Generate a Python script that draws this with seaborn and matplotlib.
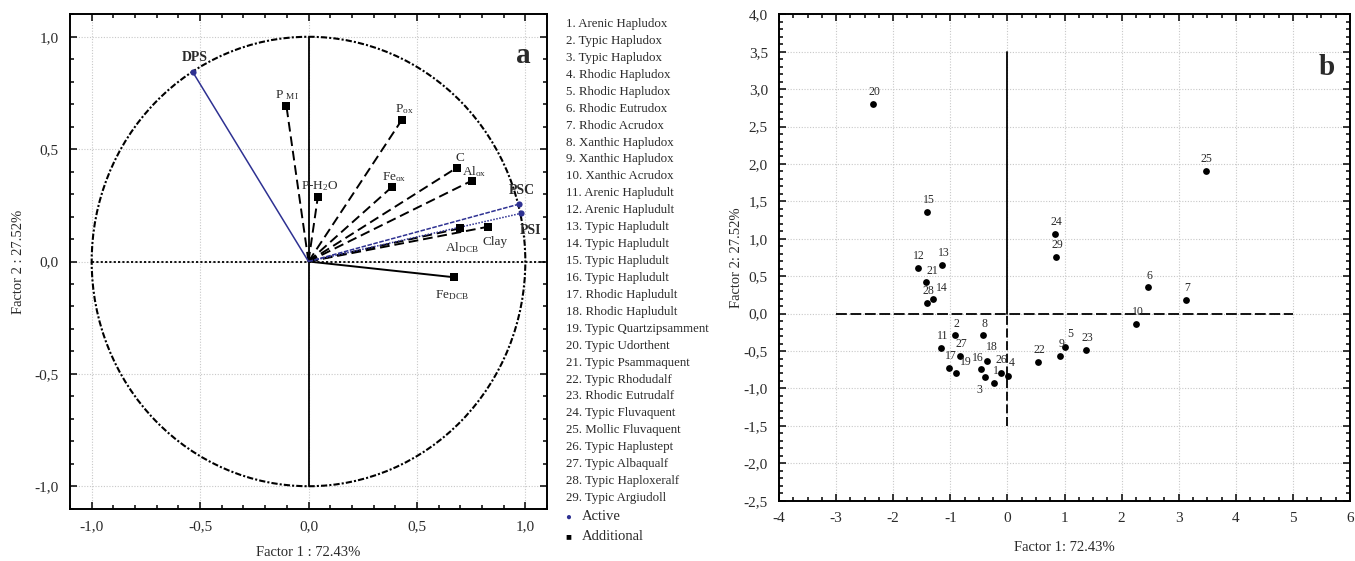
import numpy as np
import pandas as pd
import matplotlib
matplotlib.use("Agg")
import matplotlib.pyplot as plt
from matplotlib.patches import Circle
from matplotlib.ticker import MultipleLocator, FuncFormatter
import seaborn as sns

# ---------------- data ----------------
# Panel a: loadings (Factor 1, Factor 2)
active_vars = ["DPS", "PSC", "PSI"]
active_f1 = [-0.535, 0.970, 0.979]
active_f2 = [0.845, 0.255, 0.214]

add_vars = ["P_MI", "P_ox", "C", "Al_ox", "Fe_ox", "P-H2O", "Al_DCB", "Clay", "Fe_DCB"]
add_labels = [r"P $_{\mathrm{MI}}$", r"P$_{\mathrm{ox}}$", "C", r"Al$_{\mathrm{ox}}$",
              r"Fe$_{\mathrm{ox}}$", r"P-H$_2$O", r"Al$_{\mathrm{DCB}}$", "Clay",
              r"Fe$_{\mathrm{DCB}}$"]
add_f1 = [-0.102, 0.429, 0.685, 0.752, 0.384, 0.043, 0.701, 0.830, 0.670]
add_f2 = [0.693, 0.628, 0.418, 0.359, 0.331, 0.287, 0.148, 0.155, -0.070]

# Panel b: scores of the 29 soils
soil_ids = list(range(1, 30))
soil_f1 = [-0.23, -0.92, -0.40, 0.01, 1.00, 2.46, 3.13, -0.42, 0.92, 2.26,
           -1.16, -1.57, -1.14, -1.30, -1.40, -0.47, -1.02, -0.35, -0.90, -2.36,
           -1.43, 0.54, 1.38, 0.83, 3.47, -0.11, -0.83, -1.40, 0.85]
soil_f2 = [-0.93, -0.29, -0.85, -0.83, -0.44, 0.35, 0.18, -0.29, -0.57, -0.14,
           -0.46, 0.61, 0.65, 0.20, 1.36, -0.74, -0.72, -0.63, -0.79, 2.80,
           0.42, -0.64, -0.49, 1.06, 1.91, -0.79, -0.57, 0.14, 0.76]

soil_names = ["Arenic Hapludox", "Typic Hapludox", "Typic Hapludox", "Rhodic Hapludox",
              "Rhodic Hapludox", "Rhodic Eutrudox", "Rhodic Acrudox", "Xanthic Hapludox",
              "Xanthic Hapludox", "Xanthic Acrudox", "Arenic Hapludult", "Arenic Hapludult",
              "Typic Hapludult", "Typic Hapludult", "Typic Hapludult", "Typic Hapludult",
              "Rhodic Hapludult", "Rhodic Hapludult", "Typic Quartzipsamment",
              "Typic Udorthent", "Typic Psammaquent", "Typic Rhodudalf", "Rhodic Eutrudalf",
              "Typic Fluvaquent", "Mollic Fluvaquent", "Typic Haplustept", "Typic Albaqualf",
              "Typic Haploxeralf", "Typic Argiudoll"]

x_label_a = "Factor 1 : 72.43%"
y_label_a = "Factor 2 : 27.52%"
x_label_b = "Factor 1: 72.43%"
y_label_b = "Factor 2: 27.52%"

# ---------------- style ----------------
sns.set_theme(style="ticks")
plt.rcParams["font.family"] = ["Liberation Serif", "DejaVu Serif"]
plt.rcParams["mathtext.fontset"] = "custom"
plt.rcParams["mathtext.rm"] = "Liberation Serif"
plt.rcParams["mathtext.it"] = "Liberation Serif:italic"
plt.rcParams["mathtext.bf"] = "Liberation Serif:bold"

TXT = "#2a2a2a"
BLUE = "#2e3192"

W, H = 1355, 561
fig = plt.figure(figsize=(W / 100, H / 100), dpi=100)
ax1 = fig.add_axes([70 / W, 1 - 508.7 / H, 477 / W, 494.4 / H])
ax2 = fig.add_axes([779 / W, 1 - 500.7 / H, 571 / W, 486.4 / H])

comma = FuncFormatter(lambda v, p: f"{v:.1f}".replace(".", ",").replace("-0,0", "0,0"))
intfmt = FuncFormatter(lambda v, p: f"{v:.0f}")


def style_axes(ax):
    for s in ax.spines.values():
        s.set_linewidth(1.4)
        s.set_color("black")
    ax.tick_params(which="both", direction="in", top=True, right=True,
                   colors="black", labelcolor=TXT, labelsize=11, width=1.1)
    ax.tick_params(which="major", length=5, pad=8)
    ax.tick_params(which="minor", length=3)
    ax.grid(True, which="major", color="#c8c8c8", linestyle=(0, (1, 1.5)), linewidth=0.8)
    ax.set_axisbelow(True)


# ---------------- panel a ----------------
ax = ax1
ax.set_xlim(-1.1, 1.1)
ax.set_ylim(-1.1, 1.1)
style_axes(ax)
ax.xaxis.set_major_locator(MultipleLocator(0.5))
ax.yaxis.set_major_locator(MultipleLocator(0.5))
ax.xaxis.set_minor_locator(MultipleLocator(0.1))
ax.yaxis.set_minor_locator(MultipleLocator(0.1))
ax.xaxis.set_major_formatter(comma)
ax.yaxis.set_major_formatter(comma)

ax.add_patch(Circle((0, 0), 1.0, fill=False, color="black", lw=1.5,
                    linestyle=(0, (3, 1, 1, 1)), zorder=2))
ax.plot([-1.0, 1.1], [0, 0], color="black", lw=1.3, linestyle=(0, (1.2, 1.2)), zorder=2)
ax.plot([0, 0], [-1.0, 1.0], color="black", lw=1.3, zorder=2)

add_styles = [(0, (5, 2.5))] * 8 + ["-"]
for xv, yv, ls in zip(add_f1, add_f2, add_styles):
    ax.plot([0, xv], [0, yv], color="black", lw=1.4, linestyle=ls, zorder=3)
act_styles = ["-", (0, (3, 1)), (0, (1, 1))]
for xv, yv, ls in zip(active_f1, active_f2, act_styles):
    ax.plot([0, xv], [0, yv], color=BLUE, lw=1.1, linestyle=ls, zorder=3)

df_add = pd.DataFrame({"f1": add_f1, "f2": add_f2, "var": add_vars})
df_act = pd.DataFrame({"f1": active_f1, "f2": active_f2, "var": active_vars})
sns.scatterplot(data=df_add, x="f1", y="f2", marker="s", color="black", s=26,
                edgecolor="black", linewidth=0, ax=ax, zorder=4, legend=False)
sns.scatterplot(data=df_act, x="f1", y="f2", marker="o", color=BLUE, s=20,
                edgecolor=BLUE, linewidth=0, ax=ax, zorder=4, legend=False)

add_off = [(0, 8), (2, 8), (2, 7), (2, 7), (2, 7), (1, 8), (1, -14), (5, -11), (-1, -13)]
for lab, xv, yv, (dx, dy) in zip(add_labels, add_f1, add_f2, add_off):
    ax.annotate(lab, (xv, yv), xytext=(dx, dy), textcoords="offset points",
                ha="center", va="center", fontsize=9.5, color=TXT, zorder=5)
act_off = [(2, 10), (2, 10), (7, -12)]
for lab, xv, yv, (dx, dy) in zip(active_vars, active_f1, active_f2, act_off):
    ax.annotate(lab, (xv, yv), xytext=(dx, dy), textcoords="offset points",
                ha="center", va="center", fontsize=10, fontweight="bold",
                color=TXT, zorder=5)

ax.text(0.95, 0.917, "a", transform=ax.transAxes, fontsize=21, fontweight="bold",
        ha="center", va="center", color=TXT)
ax.set_xlabel(x_label_a, fontsize=10.5, color=TXT)
ax.set_ylabel(y_label_a, fontsize=10.5, color=TXT)
ax.xaxis.set_label_coords(0.5, -0.075)
ax.yaxis.set_label_coords(-0.095, 0.5)

# ---------------- legend text ----------------
for i, name in enumerate(soil_names):
    fig.text(566 / W, 1 - (24 + i * 16.93) / H, f"{soil_ids[i]}. {name}",
             fontsize=9.3, color=TXT, ha="left", va="center")
fig.text(568 / W, 1 - 517 / H, "\u25CF", fontsize=7, color=BLUE, ha="center", va="center")
fig.text(582 / W, 1 - 517 / H, "Active", fontsize=10.5, color=TXT, ha="left", va="center")
fig.text(568 / W, 1 - 537 / H, "\u25A0", fontsize=7, color="black", ha="center", va="center")
fig.text(582 / W, 1 - 537 / H, "Additional", fontsize=10.5, color=TXT, ha="left", va="center")

# ---------------- panel b ----------------
ax = ax2
ax.set_xlim(-4, 6)
ax.set_ylim(-2.5, 4.0)
style_axes(ax)
ax.xaxis.set_major_locator(MultipleLocator(1))
ax.yaxis.set_major_locator(MultipleLocator(0.5))
ax.xaxis.set_minor_locator(MultipleLocator(0.25))
ax.yaxis.set_minor_locator(MultipleLocator(0.1))
ax.xaxis.set_major_formatter(intfmt)
ax.yaxis.set_major_formatter(comma)

ax.plot([-3, 5], [0, 0], color="black", lw=1.3, linestyle=(0, (6, 2, 6, 2)), zorder=2)
ax.plot([0, 0], [0, 3.5], color="black", lw=1.3, zorder=2)
ax.plot([0, 0], [-1.5, 0], color="black", lw=1.3, linestyle=(0, (5, 2)), zorder=2)

df_s = pd.DataFrame({"f1": soil_f1, "f2": soil_f2, "id": soil_ids})
sns.scatterplot(data=df_s, x="f1", y="f2", color="black", s=24, linewidth=0,
                ax=ax, zorder=4, legend=False)

special = {3: (-4, -9), 4: (3, 9), 5: (4, 9), 14: (6, 8), 19: (7, 8), 21: (5, 8),
           9: (1, 9), 26: (0, 9), 16: (-2, 8), 18: (3, 10)}
for sid, xv, yv in zip(soil_ids, soil_f1, soil_f2):
    dx, dy = special.get(sid, (1, 8.5))
    ax.annotate(str(sid), (xv, yv), xytext=(dx, dy), textcoords="offset points",
                ha="center", va="center", fontsize=8.5, color=TXT, zorder=5)

ax.text(0.96, 0.89, "b", transform=ax.transAxes, fontsize=21, fontweight="bold",
        ha="center", va="center", color=TXT)
ax.set_xlabel(x_label_b, fontsize=10.5, color=TXT)
ax.set_ylabel(y_label_b, fontsize=10.5, color=TXT)
ax.xaxis.set_label_coords(0.5, -0.083)
ax.yaxis.set_label_coords(-0.063, 0.5)

fig.savefig("out.png", dpi=100)
